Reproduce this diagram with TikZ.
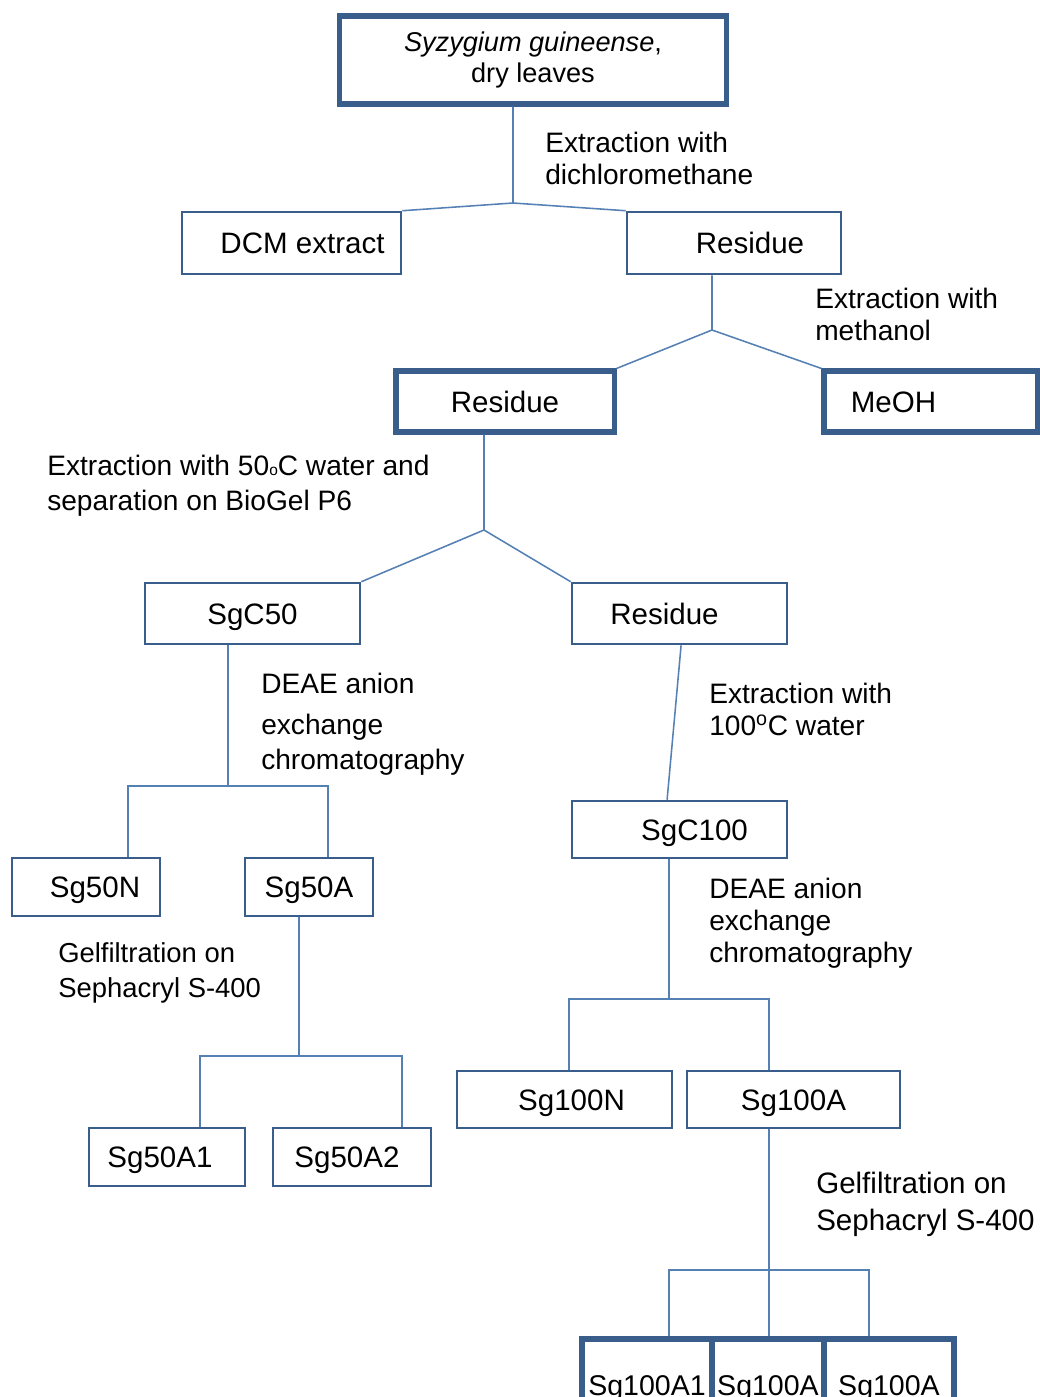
\documentclass[tikz,border=0pt]{standalone}
\usepackage{fontspec}
\setmainfont{Liberation Sans}
\definecolor{boxblue}{RGB}{58,94,140}
\definecolor{lineblue}{RGB}{84,128,180}

\begin{document}
\begin{tikzpicture}[x=0.025cm, y=-0.025cm,
		box/.style={draw=boxblue, line width=1.8pt, rectangle, inner sep=0pt, text height=15pt, text depth=0pt, font=\fontsize{21}{25}\selectfont},
		thickbox/.style={box, line width=3.6pt},
		note/.style={anchor=north west, align=left, inner sep=0pt, font=\fontsize{20}{22.7}\selectfont},
		link/.style={draw=lineblue, line width=1.1pt}]
			\useasboundingbox (0, 0) rectangle (1040, 1397);
			\clip (0, 0) rectangle (1040, 1397);

			\draw (533, 60) 	node[draw=boxblue, line width=3.6pt, minimum width=9.65cm, minimum height=2.2cm, align=center, inner sep=0pt, font=\fontsize{19.3}{22.7}\selectfont] 	(leaves) 	{\textit{Syzygium guineense},\\dry leaves};
			\draw (291.5, 243) 	node[box, minimum width=5.475cm, minimum height=1.55cm] 	(dcm) 		{\hspace*{0.55cm}DCM extract};
			\draw (734, 243) 	node[box, minimum width=5.35cm, minimum height=1.55cm] 		(res1) 		{\hspace*{0.8cm}Residue};
			\draw (505, 401.5) 	node[thickbox, minimum width=5.45cm, minimum height=1.525cm] 	(res2) 		{Residue};
			\draw (930.5, 401.5) 	node[thickbox, minimum width=5.325cm, minimum height=1.525cm] 	(meoh) 		{MeOH\hspace*{1.85cm}};
			\draw (252.5, 613.5) 	node[box, minimum width=5.375cm, minimum height=1.525cm] 	(sgc50) 	{SgC50};
			\draw (679.5, 613.5) 	node[box, minimum width=5.375cm, minimum height=1.525cm] 	(res3) 		{Residue\hspace*{0.75cm}};
			\draw (679.5, 829.5) 	node[box, minimum width=5.375cm, minimum height=1.425cm] 	(sgc100) 	{\hspace*{0.75cm}SgC100};
			\draw (86, 887) 	node[box, minimum width=3.7cm, minimum height=1.45cm] 		(sg50n) 	{\hspace*{0.45cm}Sg50N};
			\draw (309, 887) 	node[box, minimum width=3.2cm, minimum height=1.45cm] 		(sg50a) 	{Sg50A};
			\draw (167, 1157) 	node[box, minimum width=3.9cm, minimum height=1.45cm] 		(sg50a1) 	{Sg50A1\hspace*{0.35cm}};
			\draw (352, 1157) 	node[box, minimum width=3.95cm, minimum height=1.45cm] 		(sg50a2) 	{Sg50A2\hspace*{0.25cm}};
			\draw (564.5, 1099.5) 	node[box, minimum width=5.375cm, minimum height=1.425cm] 	(sg100n) 	{\hspace*{0.35cm}Sg100N};
			\draw (793.5, 1099.5) 	node[box, minimum width=5.325cm, minimum height=1.425cm] 	(sg100a) 	{Sg100A};
			\draw (647, 1384.5) 	node[thickbox, minimum width=3.25cm, minimum height=2.275cm, font=\fontsize{20.3}{24}\selectfont] 	(sg100a1) 	{Sg100A1};
			\draw (768, 1384.5) 	node[thickbox, minimum width=2.8cm, minimum height=2.275cm, font=\fontsize{20.3}{24}\selectfont] 	(sg100a2) 	{Sg100A};
			\draw (889, 1384.5) 	node[thickbox, minimum width=3.25cm, minimum height=2.275cm, font=\fontsize{20.3}{24}\selectfont] 	(sg100a3) 	{Sg100A};

			\draw (545, 132) 	node[note] 	(ex_dcm) 	{Extraction with\\dichloromethane};
			\draw (815, 288) 	node[note] 	(ex_meoh) 	{Extraction with\\methanol};
			\draw (47, 455) 	node[note, font=\fontsize{20}{24.8}\selectfont] 	(ex_c50) 	{Extraction with 50{\fontsize{11}{11}\selectfont o}C water and\\separation on BioGel P6};
			\draw (261, 673) 	node[note, font=\fontsize{20}{24.8}\selectfont] 	(deae50) 	{DEAE anion\\[4.2pt]exchange\\chromatography};
			\draw (709, 683) 	node[note] 	(ex_c100) 	{Extraction with\\100\textsuperscript{o}C water};
			\draw (709, 878) 	node[note] 	(deae100) 	{DEAE anion\\exchange\\chromatography};
			\draw (58, 942) 	node[note, font=\fontsize{19.5}{24.8}\selectfont] 	(gel50) 	{Gelfiltration on\\Sephacryl S-400};
			\draw (816, 1172) 	node[note, font=\fontsize{21}{26.2}\selectfont] 	(gel100) 	{Gelfiltration on\\Sephacryl S-400};

			\coordinate (j1) at (513, 203);
			\coordinate (j2) at (712, 330);
			\coordinate (j3) at (484, 530);
			\coordinate (j4) at (228, 786);
			\coordinate (j4l) at (128, 786);
			\coordinate (j4r) at (328, 786);
			\coordinate (j6) at (669, 999);
			\coordinate (j6l) at (569, 999);
			\coordinate (j6r) at (769, 999);
			\coordinate (j7) at (299, 1056);
			\coordinate (j7l) at (200, 1056);
			\coordinate (j7r) at (402, 1056);
			\coordinate (j8) at (769, 1270);
			\coordinate (j8l) at (669, 1270);
			\coordinate (j8r) at (869, 1270);

			\draw[link] (leaves.south -| j1) -- (j1) -- (dcm.north east);
			\draw[link] (j1) -- (res1.north west);
			\draw[link] (res1.south -| j2) -- (j2) -- (res2.north east);
			\draw[link] (j2) -- (meoh.north west);
			\draw[link] (res2.south -| j3) -- (j3) -- (sgc50.north east);
			\draw[link] (j3) -- (res3.north west);
			\draw[link] (sgc50.south -| j4) -- (j4);
			\draw[link] (sg50n.north -| j4l) -- (j4l) -- (j4r) -- (sg50a.north -| j4r);
			\draw[link] ([xshift=0.04cm]res3.south) -- ([xshift=-0.31cm]sgc100.north);
			\draw[link] (sgc100.south -| j6) -- (j6);
			\draw[link] (sg100n.north -| j6l) -- (j6l) -- (j6r) -- (sg100a.north -| j6r);
			\draw[link] (sg50a.south -| j7) -- (j7);
			\draw[link] (sg50a1.north -| j7l) -- (j7l) -- (j7r) -- (sg50a2.north -| j7r);
			\draw[link] (sg100a.south -| j8) -- (j8);
			\draw[link] (sg100a1.north -| j8l) -- (j8l) -- (j8r) -- (sg100a3.north -| j8r);
			\draw[link] (j8) -- (sg100a2.north -| j8);
		\end{tikzpicture}
\end{document}
